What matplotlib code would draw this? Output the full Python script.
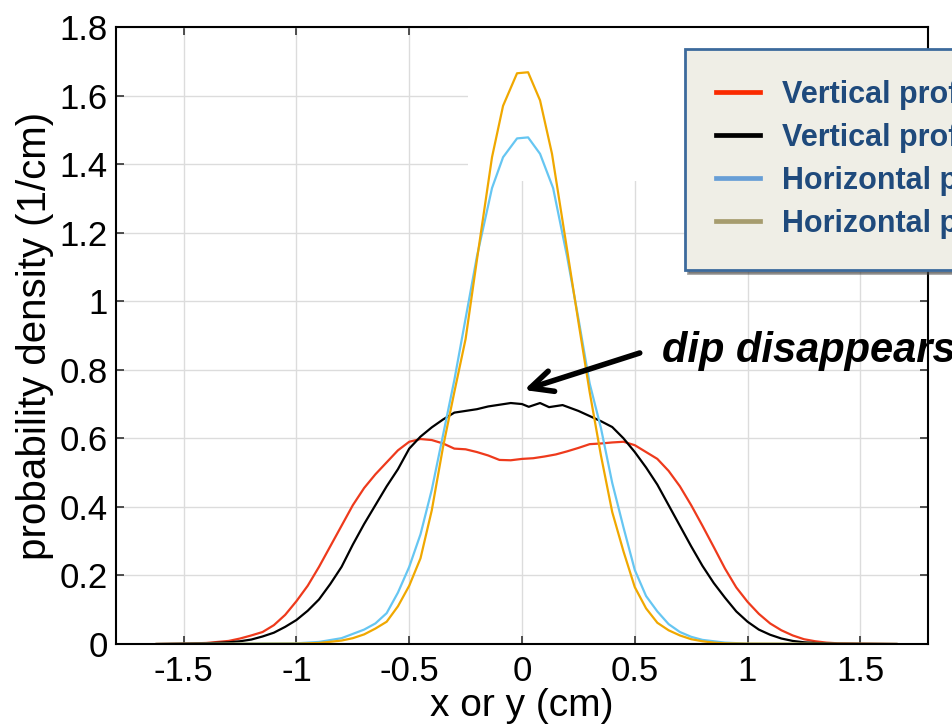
import matplotlib
matplotlib.use("Agg")
import matplotlib.pyplot as plt
from matplotlib.lines import Line2D
from matplotlib.patches import Rectangle

# ---------------- data ----------------
x_red = [-1.62, -1.5, -1.4, -1.3, -1.25, -1.2, -1.15, -1.1, -1.05, -1.0, -0.95, -0.9, -0.85, -0.8,
         -0.75, -0.7, -0.65, -0.6, -0.55, -0.5, -0.45, -0.4, -0.35, -0.3, -0.25, -0.2, -0.15, -0.1,
         -0.05, 0.0, 0.05, 0.1, 0.15, 0.2, 0.25, 0.3, 0.35, 0.4, 0.45, 0.5, 0.55, 0.6, 0.65, 0.7,
         0.75, 0.8, 0.85, 0.9, 0.95, 1.0, 1.05, 1.1, 1.15, 1.2, 1.25, 1.3, 1.35, 1.4, 1.5, 1.66]
y_red = [0.0, 0.001, 0.003, 0.009, 0.016, 0.025, 0.035, 0.055, 0.085, 0.125, 0.17, 0.225, 0.285, 0.345,
         0.405, 0.455, 0.495, 0.53, 0.565, 0.59, 0.598, 0.595, 0.585, 0.57, 0.568, 0.56, 0.55, 0.537,
         0.536, 0.54, 0.542, 0.547, 0.553, 0.562, 0.572, 0.583, 0.585, 0.588, 0.59, 0.58, 0.56, 0.54,
         0.505, 0.46, 0.405, 0.345, 0.283, 0.22, 0.165, 0.123, 0.088, 0.06, 0.04, 0.025, 0.014, 0.008,
         0.004, 0.002, 0.001, 0.0]

x_black = [-1.62, -1.4, -1.3, -1.25, -1.2, -1.15, -1.1, -1.05, -1.0, -0.95, -0.9, -0.85, -0.8, -0.75,
           -0.7, -0.65, -0.6, -0.55, -0.5, -0.45, -0.4, -0.35, -0.3, -0.25, -0.2, -0.15, -0.1, -0.05,
           0.0, 0.03, 0.08, 0.12, 0.18, 0.25, 0.3, 0.35, 0.4, 0.45, 0.5, 0.55, 0.6, 0.65, 0.7, 0.75,
           0.8, 0.85, 0.9, 0.95, 1.0, 1.05, 1.1, 1.15, 1.2, 1.25, 1.3, 1.4, 1.66]
y_black = [0.0, 0.002, 0.005, 0.008, 0.013, 0.022, 0.033, 0.05, 0.07, 0.097, 0.13, 0.175, 0.225, 0.29,
           0.35, 0.405, 0.46, 0.51, 0.57, 0.605, 0.632, 0.655, 0.675, 0.68, 0.685, 0.693, 0.698, 0.703,
           0.7, 0.692, 0.703, 0.691, 0.697, 0.68, 0.665, 0.65, 0.633, 0.6, 0.56, 0.515, 0.465, 0.405,
           0.345, 0.285, 0.228, 0.178, 0.135, 0.095, 0.065, 0.042, 0.027, 0.016, 0.009, 0.005, 0.003,
           0.001, 0.0]

x_blue = [-1.62, -1.0, -0.9, -0.8, -0.7, -0.65, -0.6, -0.55, -0.5, -0.45, -0.4, -0.35, -0.3, -0.25,
          -0.2, -0.133, -0.084, -0.022, 0.027, 0.08, 0.138, 0.2, 0.25, 0.3, 0.35, 0.4, 0.45, 0.5, 0.55,
          0.6, 0.65, 0.7, 0.75, 0.8, 0.9, 1.0, 1.66]
y_blue = [0.0, 0.002, 0.006, 0.017, 0.042, 0.06, 0.09, 0.15, 0.225, 0.32, 0.45, 0.61, 0.77, 0.95,
          1.13, 1.33, 1.42, 1.475, 1.478, 1.43, 1.33, 1.13, 0.95, 0.76, 0.63, 0.47, 0.34, 0.216, 0.14,
          0.095, 0.058, 0.035, 0.021, 0.012, 0.004, 0.001, 0.0]

x_orange = [-1.62, -1.0, -0.9, -0.8, -0.75, -0.7, -0.65, -0.6, -0.55, -0.5, -0.45, -0.4, -0.35, -0.3,
            -0.25, -0.2, -0.133, -0.084, -0.022, 0.027, 0.08, 0.133, 0.2, 0.25, 0.3, 0.35, 0.4, 0.45,
            0.5, 0.55, 0.6, 0.65, 0.7, 0.75, 0.8, 0.85, 0.9, 1.0, 1.66]
y_orange = [0.0, 0.001, 0.003, 0.01, 0.017, 0.028, 0.045, 0.065, 0.11, 0.17, 0.25, 0.39, 0.575, 0.735,
            0.89, 1.12, 1.42, 1.57, 1.665, 1.668, 1.586, 1.43, 1.15, 0.94, 0.735, 0.55, 0.385, 0.27,
            0.166, 0.104, 0.062, 0.04, 0.025, 0.014, 0.008, 0.004, 0.002, 0.001, 0.0]

legend_labels = ["Vertical profile (before)", "Vertical profile (after)",
                 "Horizontal profile (before)", "Horizontal profile (after)"]
x_ticks = [-1.5, -1, -0.5, 0, 0.5, 1, 1.5]
x_ticklabels = ["-1.5", "-1", "-0.5", "0", "0.5", "1", "1.5"]
y_ticks = [0, 0.2, 0.4, 0.6, 0.8, 1.0, 1.2, 1.4, 1.6, 1.8]
y_ticklabels = ["0", "0.2", "0.4", "0.6", "0.8", "1", "1.2", "1.4", "1.6", "1.8"]

# ---------------- figure ----------------
plt.rcParams['font.family'] = ['Liberation Sans', 'DejaVu Sans']

fig = plt.figure(figsize=(9.53, 7.25), dpi=100)
ax = fig.add_axes([116/953, 1-644/725, (928-116)/953, (644-27)/725])

ax.set_axisbelow(True)
ax.grid(True, color='#dcdcdc', linewidth=1.0)

# white patch hiding part of the grid (as in the original)
ax.add_patch(Rectangle((-0.239, 1.35), 2.1, 0.5, facecolor='white', edgecolor='none', zorder=1))

lw = 1.6
ax.plot(x_red, y_red, color='#ee3a1c', lw=lw, zorder=3)
ax.plot(x_black, y_black, color='black', lw=lw, zorder=3)
ax.plot(x_blue, y_blue, color='#66c6f2', lw=lw, zorder=3)
ax.plot(x_orange, y_orange, color='#f0a800', lw=lw, zorder=3)

ax.set_xlim(-1.8, 1.8)
ax.set_ylim(0, 1.8)
ax.set_xticks(x_ticks)
ax.set_xticklabels(x_ticklabels)
ax.set_yticks(y_ticks)
ax.set_yticklabels(y_ticklabels)
ax.tick_params(direction='in', length=6, width=1.2, top=True, right=True,
               labelsize=25, color='#333333')
ax.tick_params(axis='y', pad=6)
ax.tick_params(axis='x', pad=8)
for s in ax.spines.values():
    s.set_linewidth(1.5)
    s.set_zorder(4)

ax.set_xlabel("x or y (cm)", fontsize=28, labelpad=0)
ax.set_ylabel("probability density (1/cm)", fontsize=29, labelpad=4)

# annotation arrow and text
ax.annotate('', xy=(0.009, 0.741), xytext=(0.522, 0.849),
            arrowprops=dict(arrowstyle='->,head_length=0.8,head_width=0.38',
                            lw=4, color='black', mutation_scale=20, shrinkA=0, shrinkB=0),
            zorder=5)
ax.text(0.619, 0.823, "dip disappears", fontsize=30, fontweight='bold', fontstyle='italic',
        va='baseline', ha='left', zorder=5, clip_on=False)

# legend
handles = [Line2D([], [], color='#fa2a00', lw=3.4),
           Line2D([], [], color='black', lw=3.4),
           Line2D([], [], color='#679ed6', lw=3.4),
           Line2D([], [], color='#a69c6e', lw=3.4)]
leg = ax.legend(handles, legend_labels, loc='upper left',
                bbox_to_anchor=(685/953, 1-49/725), bbox_transform=fig.transFigure,
                borderaxespad=0, frameon=True, fancybox=False, shadow=True,
                prop=dict(family='Liberation Sans', weight='bold', size=22),
                labelcolor='#1f4a7c', handlelength=1.45, handletextpad=0.72,
                labelspacing=0.42, borderpad=1.02)
leg.get_frame().set_facecolor('#efeee6')
leg.get_frame().set_edgecolor('#3c6a9c')
leg.get_frame().set_linewidth(2)
leg.get_frame().set_alpha(1)
leg.set_zorder(10)

fig.savefig("out.png", dpi=100)
